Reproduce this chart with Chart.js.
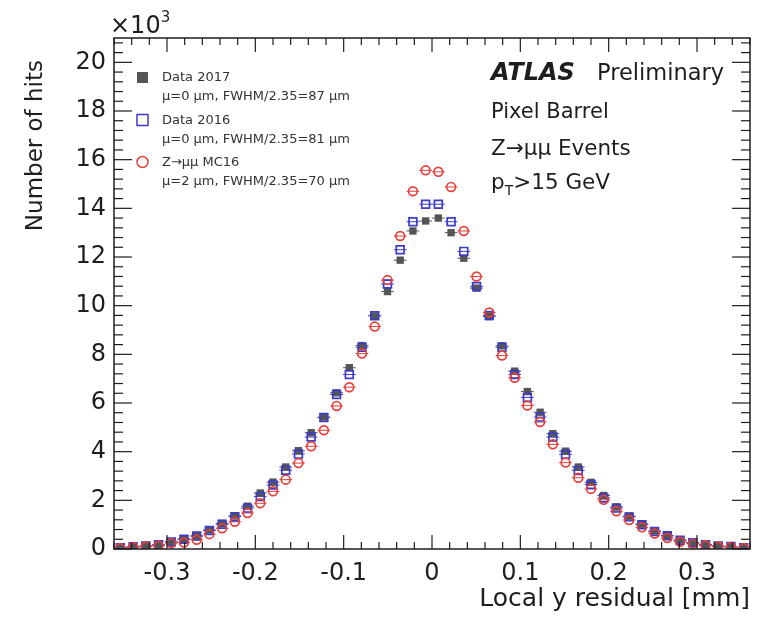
<!DOCTYPE html>
<html lang="en">
<head>
<meta charset="UTF-8" />
<title>Local y residual - Pixel Barrel</title>
<script src="https://cdn.jsdelivr.net/npm/chart.js"></script>
<style>
  html, body { margin: 0; padding: 0; background: #fff; }
  #wrap { width: 759px; height: 617px; }
</style>
</head>
<body>
<div id="wrap"><canvas id="resChart" width="759" height="617"></canvas></div>
<script>
// bin centres, local y residual [mm] (50 bins, width 0.0144 mm)
const binCentres = [
  -0.3528, -0.3384, -0.3240, -0.3096, -0.2952, -0.2808, -0.2664, -0.2520, -0.2376, -0.2232,
  -0.2088, -0.1944, -0.1800, -0.1656, -0.1512, -0.1368, -0.1224, -0.1080, -0.0936, -0.0792,
  -0.0648, -0.0504, -0.0360, -0.0216, -0.0072, 0.0072, 0.0216, 0.0360, 0.0504, 0.0648,
  0.0792, 0.0936, 0.1080, 0.1224, 0.1368, 0.1512, 0.1656, 0.1800, 0.1944, 0.2088,
  0.2232, 0.2376, 0.2520, 0.2664, 0.2808, 0.2952, 0.3096, 0.3240, 0.3384, 0.3528
];
const halfBin = 0.0072;

// number of hits, x10^3
const data2017 = [
  0.05, 0.09, 0.12, 0.17, 0.30, 0.41, 0.54, 0.78, 1.05, 1.36,
  1.76, 2.30, 2.75, 3.37, 4.04, 4.78, 5.42, 6.42, 7.45, 8.36,
  9.58, 10.58, 11.87, 13.07, 13.48, 13.60, 13.00, 11.95, 10.72, 9.55,
  8.35, 7.31, 6.47, 5.62, 4.74, 4.02, 3.37, 2.74, 2.20, 1.73,
  1.35, 1.03, 0.74, 0.55, 0.37, 0.26, 0.19, 0.12, 0.10, 0.05
];
const data2016 = [
  0.05, 0.09, 0.12, 0.17, 0.29, 0.40, 0.53, 0.76, 1.02, 1.33,
  1.68, 2.16, 2.63, 3.24, 3.90, 4.60, 5.40, 6.35, 7.17, 8.29,
  9.59, 10.89, 12.30, 13.45, 14.17, 14.17, 13.45, 12.23, 10.79, 9.60,
  8.29, 7.17, 6.23, 5.42, 4.60, 3.89, 3.23, 2.65, 2.10, 1.68,
  1.32, 1.00, 0.72, 0.54, 0.36, 0.26, 0.18, 0.12, 0.10, 0.05
];
const dataMC16 = [
  0.04, 0.08, 0.10, 0.14, 0.24, 0.27, 0.38, 0.61, 0.85, 1.12,
  1.48, 1.88, 2.37, 2.85, 3.53, 4.22, 4.88, 5.88, 6.65, 8.03,
  9.14, 11.05, 12.86, 14.70, 15.56, 15.50, 14.88, 13.07, 11.20, 9.72,
  7.95, 7.04, 5.90, 5.22, 4.30, 3.55, 2.93, 2.47, 2.02, 1.55,
  1.19, 0.89, 0.64, 0.45, 0.30, 0.22, 0.15, 0.10, 0.08, 0.04
];

const xTicks = [-0.3, -0.2, -0.1, 0, 0.1, 0.2, 0.3];
const yTicks = [0, 2, 4, 6, 8, 10, 12, 14, 16, 18, 20];

const legendRows = [
  ['Data 2017', '\u03bc=0 \u03bcm, FWHM/2.35=87 \u03bcm'],
  ['Data 2016', '\u03bc=0 \u03bcm, FWHM/2.35=81 \u03bcm'],
  ['Z\u2192\u03bc\u03bc MC16', '\u03bc=2 \u03bcm, FWHM/2.35=70 \u03bcm']
];

const GRAY = '#555555', BLUE = '#3c3cc8', RED = '#e5403a', INK = '#1e1e1e';
const FONT = '"DejaVu Sans", sans-serif';

const toPts = vals => vals.map((v, i) => ({ x: binCentres[i], y: v }));

// horizontal bin-width bars under the markers
const binBars = {
  id: 'binBars',
  beforeDatasetsDraw(chart) {
    const { ctx, scales: { x, y } } = chart;
    ctx.save();
    ctx.lineWidth = 1;
    chart.data.datasets.forEach(ds => {
      ctx.strokeStyle = ds.borderColor;
      ds.data.forEach(p => {
        const py = y.getPixelForValue(p.y);
        ctx.beginPath();
        ctx.moveTo(x.getPixelForValue(p.x - halfBin), py);
        ctx.lineTo(x.getPixelForValue(p.x + halfBin), py);
        ctx.stroke();
      });
    });
    ctx.restore();
  }
};

// ROOT-style frame with ticks on all four sides
const frameTicks = {
  id: 'frameTicks',
  afterDatasetsDraw(chart) {
    const { ctx, chartArea: a, scales: { x, y } } = chart;
    ctx.save();
    ctx.strokeStyle = INK;
    ctx.lineWidth = 1.5;
    ctx.strokeRect(a.left, a.top, a.right - a.left, a.bottom - a.top);
    ctx.lineWidth = 1.2;
    const seg = (x1, y1, x2, y2) => { ctx.beginPath(); ctx.moveTo(x1, y1); ctx.lineTo(x2, y2); ctx.stroke(); };
    for (let i = -18; i <= 18; i++) {
      const px = x.getPixelForValue(i * 0.02);
      const len = i % 5 === 0 ? 14 : 7;
      seg(px, a.bottom, px, a.bottom - len);
      seg(px, a.top, px, a.top + len);
    }
    for (let i = 0; i <= 52; i++) {
      const py = y.getPixelForValue(i * 0.4);
      const len = i % 5 === 0 ? 18 : 9;
      seg(a.left, py, a.left + len, py);
      seg(a.right, py, a.right - len, py);
    }
    ctx.restore();
  }
};

// legend, labels and axis titles
const labels = {
  id: 'labels',
  afterDraw(chart) {
    const { ctx, chartArea: a } = chart;
    ctx.save();
    ctx.fillStyle = INK;
    ctx.textBaseline = 'alphabetic';

    // axis titles
    ctx.font = '25px ' + FONT;
    ctx.textAlign = 'right';
    ctx.fillText('Local y residual [mm]', a.right, 606);
    ctx.save();
    ctx.translate(42, 60);
    ctx.rotate(-Math.PI / 2);
    ctx.font = '23px ' + FONT;
    ctx.fillText('Number of hits', 0, 0);
    ctx.restore();

    // x10^3
    ctx.textAlign = 'left';
    ctx.font = '24px ' + FONT;
    ctx.fillText('\u00d710', 110, 33);
    const w = ctx.measureText('\u00d710').width;
    ctx.font = '15px ' + FONT;
    ctx.fillText('3', 110 + w, 22);

    // legend
    const markY = [77, 120, 162];
    ctx.font = '13px ' + FONT;
    legendRows.forEach((row, i) => {
      ctx.fillStyle = '#333';
      ctx.fillText(row[0], 162, markY[i] + 4);
      ctx.fillText(row[1], 162, markY[i] + 23);
    });
    ctx.fillStyle = GRAY;
    ctx.fillRect(137, markY[0] - 5, 11, 11);
    ctx.lineWidth = 1.5;
    ctx.strokeStyle = BLUE;
    ctx.strokeRect(137, markY[1] - 5.5, 11, 11);
    ctx.strokeStyle = RED;
    ctx.beginPath();
    ctx.arc(142.5, markY[2], 5.5, 0, Math.PI * 2);
    ctx.stroke();

    // ATLAS label
    ctx.fillStyle = INK;
    ctx.font = 'italic bold 24px ' + FONT;
    ctx.fillText('ATLAS', 491, 80);
    ctx.font = '22.5px ' + FONT;
    ctx.fillText('Preliminary', 597, 80);
    ctx.font = '21px ' + FONT;
    ctx.fillText('Pixel Barrel', 491, 118);
    ctx.font = '21.5px ' + FONT;
    ctx.fillText('Z\u2192\u03bc\u03bc Events', 491, 155);
    ctx.fillText('p', 491, 189);
    const pw = ctx.measureText('p').width;
    ctx.font = '14px ' + FONT;
    ctx.fillText('T', 491 + pw, 195);
    const tw = ctx.measureText('T').width;
    ctx.font = '21.5px ' + FONT;
    ctx.fillText('>15 GeV', 491 + pw + tw, 189);
    ctx.restore();
  }
};

const ctx = document.getElementById('resChart').getContext('2d');
new Chart(ctx, {
  type: 'scatter',
  data: {
    datasets: [
      {
        label: 'Data 2017',
        data: toPts(data2017),
        pointStyle: 'rect',
        pointRadius: 5.2,
        backgroundColor: GRAY,
        borderColor: GRAY,
        borderWidth: 0,
        order: 3
      },
      {
        label: 'Data 2016',
        data: toPts(data2016),
        pointStyle: 'rect',
        pointRadius: 5.5,
        backgroundColor: 'rgba(0,0,0,0)',
        borderColor: BLUE,
        borderWidth: 1.7,
        order: 2
      },
      {
        label: 'Z\u2192\u03bc\u03bc MC16',
        data: toPts(dataMC16),
        pointStyle: 'circle',
        pointRadius: 4.4,
        backgroundColor: 'rgba(0,0,0,0)',
        borderColor: RED,
        borderWidth: 1.7,
        order: 1
      }
    ]
  },
  options: {
    responsive: false,
    animation: false,
    events: [],
    layout: { padding: { top: 38, right: 9, left: 0, bottom: 0 } },
    plugins: { legend: { display: false }, tooltip: { enabled: false } },
    scales: {
      x: {
        type: 'linear',
        min: -0.36,
        max: 0.36,
        grid: { display: false, drawTicks: false },
        border: { display: false },
        afterBuildTicks: s => { s.ticks = xTicks.map(v => ({ value: v })); },
        afterFit: s => { s.height = 68; },
        ticks: {
          padding: 10,
          color: INK,
          font: { family: 'DejaVu Sans', size: 24 },
          callback: v => String(v)
        }
      },
      y: {
        type: 'linear',
        min: 0,
        max: 21,
        grid: { display: false, drawTicks: false },
        border: { display: false },
        afterBuildTicks: s => { s.ticks = yTicks.map(v => ({ value: v })); },
        afterFit: s => { s.width = 114; },
        ticks: {
          padding: 8,
          color: INK,
          font: { family: 'DejaVu Sans', size: 24 },
          callback: v => String(v)
        }
      }
    }
  },
  plugins: [binBars, frameTicks, labels]
});
</script>
</body>
</html>
